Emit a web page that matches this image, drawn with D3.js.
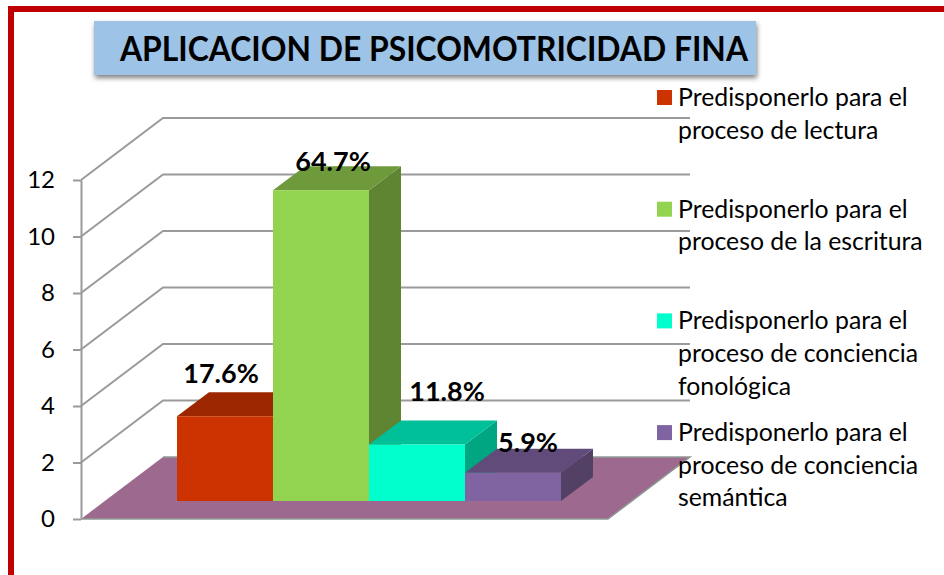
<!DOCTYPE html>
<html><head><meta charset="utf-8">
<script src="https://cdn.jsdelivr.net/npm/d3@7/dist/d3.min.js"></script>
<style>html,body{margin:0;padding:0;background:#fff}svg{display:block}text{font-family:Lato,"Open Sans",sans-serif;fill:#000}</style>
</head><body><svg id="c" width="944" height="575"></svg>
<script>
const title = "APLICACION DE PSICOMOTRICIDAD FINA";
const categories = ["Lectura","Escritura","Conciencia fonológica","Conciencia semántica"];
const values = [3,11,2,1];
const valueLabels = ["17.6%","64.7%","11.8%","5.9%"];
const tickValues = [0,2,4,6,8,10,12];
const legendLines = [
 ["Predisponerlo para el","proceso de lectura"],
 ["Predisponerlo para el","proceso de la escritura"],
 ["Predisponerlo para el","proceso de conciencia","fonológica"],
 ["Predisponerlo para el","proceso de conciencia","semántica"]];
const frontColors = ["#cc3300","#92d350","#00ffcc","#8064a2"];
const topColors = ["#9c2600","#6f9a3c","#00c09a","#604b7a"];
const sideColors = ["#872100","#5f8432","#00a582","#524065"];

const svg = d3.select("#c");
const defs = svg.append("defs");
const f = defs.append("filter").attr("id","sh").attr("x","-5%").attr("y","-20%").attr("width","110%").attr("height","150%");
f.append("feDropShadow").attr("dx",1).attr("dy",3).attr("stdDeviation",2.5).attr("flood-color","#000").attr("flood-opacity",.5);

// frame
svg.append("path").attr("d","M11 575V9H944").attr("fill","none").attr("stroke","#c00000").attr("stroke-width",6);

// scales
const y = d3.scaleLinear().domain([0,12]).range([519,180]);
const x = d3.scaleBand().domain(categories).range([177,561]);
const axisX = 81, backDx = 82, backDy = -62, floorW = 527;
const barDx = 32, barDy = -24, barBase = -18;

// walls
const grid = svg.append("g").attr("fill","none").attr("stroke","#9a9a9a").attr("stroke-width",2);
grid.selectAll("path").data(tickValues.slice(1)).join("path")
  .attr("d",d=>`M${axisX} ${y(d)}L${axisX+backDx} ${y(d)+backDy}H${axisX+backDx+floorW}`);

// floor
svg.append("path").attr("d",`M${axisX} ${y(0)}L${axisX+backDx} ${y(0)+backDy}H${axisX+backDx+floorW}L${axisX+floorW} ${y(0)}Z`)
  .attr("fill","#9e698e");
svg.append("path").attr("d",`M${axisX} ${y(0)}H${axisX+floorW}L${axisX+backDx+floorW} ${y(0)+backDy}H${axisX+backDx}`)
  .attr("fill","none").attr("stroke","#8f9a94").attr("stroke-width",1.5);

// axis
const ax = svg.append("g").attr("transform",`translate(${axisX},0)`)
  .call(d3.axisLeft(y).tickValues(tickValues).tickSize(8).tickSizeOuter(0).tickPadding(18).tickFormat(d3.format("d")));
ax.selectAll("path,line").attr("stroke","#9a9a9a").attr("stroke-width",2);
ax.selectAll("text").attr("font-size",24).attr("font-family","Lato").attr("fill","#000");

// bars
const bars = svg.append("g").selectAll("g").data(categories).join("g");
const bx = d=>x(d), bw = x.bandwidth(), by0 = y(0)+barBase;
const by = (i)=>by0-(y(0)-y(values[i]));
bars.append("path").attr("fill",(d,i)=>sideColors[i])
  .attr("d",(d,i)=>`M${bx(d)+bw} ${by(i)}l${barDx} ${barDy}V${by0+barDy}l${-barDx} ${-barDy}Z`);
bars.append("path").attr("fill",(d,i)=>topColors[i])
  .attr("d",(d,i)=>`M${bx(d)} ${by(i)}l${barDx} ${barDy}h${bw}l${-barDx} ${-barDy}Z`);
bars.append("rect").attr("fill",(d,i)=>frontColors[i])
  .attr("x",d=>bx(d)).attr("width",bw).attr("y",(d,i)=>by(i)).attr("height",(d,i)=>by0-by(i));

// labels
const labelDx = [-4,12,30,15], labelDy = [-33,-19,-44,-21];
svg.append("g").selectAll("text").data(categories).join("text")
  .attr("x",(d,i)=>bx(d)+bw/2+labelDx[i])
  .attr("y",(d,i)=>by(i)+labelDy[i])
  .attr("text-anchor","middle").attr("font-weight",700).attr("font-size",27)
  .text((d,i)=>valueLabels[i]);

// title
svg.append("rect").attr("x",94).attr("y",21).attr("width",662).attr("height",54).attr("fill","#9dc3e6").attr("filter","url(#sh)");
svg.append("text").attr("x",120).attr("y",61).attr("font-size",34).attr("font-weight",700)
  .attr("textLength",628).attr("lengthAdjust","spacingAndGlyphs").text(title);

// legend
const lg = svg.append("g").selectAll("g").data(categories).join("g")
  .attr("transform",(d,i)=>`translate(657,${90+i*111.7})`);
lg.append("rect").attr("width",15).attr("height",15).attr("fill",(d,i)=>frontColors[i]);
lg.selectAll("text").data((d,i)=>legendLines[i]).join("text")
  .attr("x",21).attr("y",(d,i)=>16+i*32.7).attr("font-size",24.8).text(d=>d);
</script></body></html>
